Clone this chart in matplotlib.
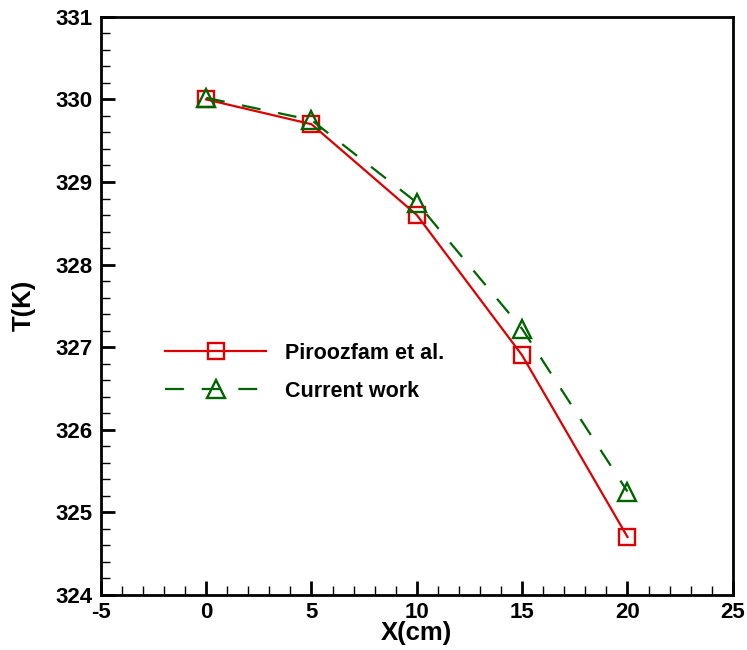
import matplotlib.pyplot as plt
from matplotlib.ticker import MultipleLocator

x = [0, 5, 10, 15, 20]
t_piroozfam = [330.0, 329.7, 328.6, 326.9, 324.7]
t_current = [330.02, 329.75, 328.75, 327.22, 325.25]

plt.rcParams['font.family'] = ['Liberation Sans', 'DejaVu Sans']
plt.rcParams['font.weight'] = 'bold'
plt.rcParams['axes.unicode_minus'] = False

fig = plt.figure(figsize=(7.47, 6.5), dpi=100)
ax = fig.add_axes([0.135, 0.085, 0.846, 0.889])

ax.plot(x, t_piroozfam, color='#dd0000', lw=1.6, marker='s', ms=12,
        mfc='none', mew=1.7, label='Piroozfam et al.')
ax.plot(x, t_current, color='#006400', lw=1.6, ls=(0, (8.5, 8)), marker='^', ms=12.5,
        mfc='none', mew=1.7, label='Current work')

ax.set_xlim(-5, 25)
ax.set_ylim(324, 331)
ax.xaxis.set_major_locator(MultipleLocator(5))
ax.xaxis.set_minor_locator(MultipleLocator(1))
ax.yaxis.set_major_locator(MultipleLocator(1))
ax.yaxis.set_minor_locator(MultipleLocator(0.2))
ax.tick_params(which='both', direction='in', top=False, right=False,
               labelsize=16, pad=6)
ax.tick_params(axis='x', pad=5)
ax.tick_params(which='major', length=10, width=2)
ax.tick_params(which='minor', length=6.5, width=1)
for s in ax.spines.values():
    s.set_linewidth(2)

ax.set_xlabel('X(cm)', fontsize=18.5, fontweight='bold', labelpad=-1)
ax.set_ylabel('T(K)', fontsize=18.5, fontweight='bold', labelpad=14)

ax.legend(loc='center left', bbox_to_anchor=(0.071, 0.385), frameon=False,
          fontsize=15.5, handlelength=4.7, handletextpad=0.85, labelspacing=0.8)

fig.savefig('out.png', dpi=100)
